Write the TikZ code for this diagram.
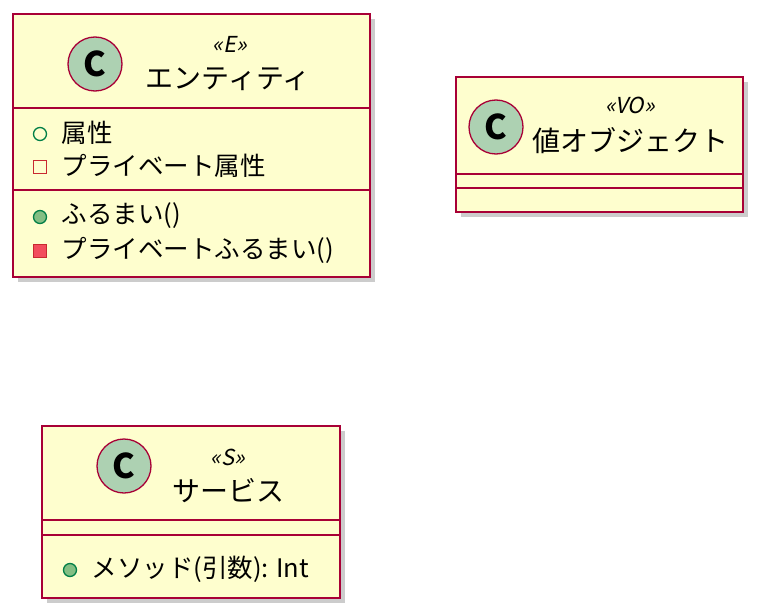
\documentclass[tikz,border=0pt]{standalone}
\usepackage{fontspec}
\setmainfont{Noto Sans CJK JP}
\usetikzlibrary{shadows}
\definecolor{bd}{HTML}{A80036}
\definecolor{bg}{HTML}{FEFECE}
\definecolor{ci}{HTML}{ADD1B2}
\definecolor{pub}{HTML}{84BE84}
\definecolor{pubb}{HTML}{038048}
\definecolor{pri}{HTML}{F24D5C}
\definecolor{prib}{HTML}{C82930}
\begin{document}
\begin{tikzpicture}[x=1pt,y=-1pt,
  box/.style={draw=bd,fill=bg,line width=2.2pt,drop shadow={shadow xshift=5pt,shadow yshift=-5pt,opacity=0.4}},
  sep/.style={draw=bd,line width=2.2pt},
  cc/.style={circle,draw=bd,fill=ci,line width=1.3pt,minimum size=54pt,inner sep=0pt,font=\fontsize{34}{34}\selectfont\bfseries},
  st/.style={font=\fontsize{22}{22}\selectfont\addfontfeature{FakeSlant=0.2}},
  nm/.style={font=\fontsize{28}{28}\selectfont},
  mb/.style={anchor=west,font=\fontsize{25.5}{25.5}\selectfont},
  pubo/.style={circle,draw=pubb,line width=1.3pt,minimum size=13pt,inner sep=0pt},
  pubf/.style={circle,draw=pubb,fill=pub,line width=1.3pt,minimum size=13pt,inner sep=0pt},
  prio/.style={rectangle,draw=prib,line width=1.3pt,minimum size=13pt,inner sep=0pt},
  prif/.style={rectangle,draw=prib,fill=pri,line width=1.3pt,minimum size=13pt,inner sep=0pt}]
\useasboundingbox (0,0) rectangle (759,615);
% Entity
\path[box] (13,14) rectangle (370,277);
\draw[sep] (13,108) -- (370,108);
\draw[sep] (13,190) -- (370,190);
\node[cc] (ec) at (95,64) {C};
\node[st] (es) at (230,44) {«E»};
\node[nm] (en) at (228,79) {エンティティ};
\node[pubo] (a1i) at (40,134) {};
\node[mb] (a1) at (58,133) {属性};
\node[prio] (a2i) at (40,167) {};
\node[mb] (a2) at (58,166) {プライベート属性};
\node[pubf] (m1i) at (40,217) {};
\node[mb] (m1) at (58,216) {ふるまい()};
\node[prif] (m2i) at (40,251) {};
\node[mb] (m2) at (58,250) {プライベートふるまい()};
% VO
\path[box] (456,77) rectangle (743,212);
\draw[sep] (456,174) -- (743,174);
\draw[sep] (456,188) -- (743,188);
\node[cc] (vc) at (496,127) {C};
\node[st] (vs) at (630,105) {«VO»};
\node[nm] (vn) at (630,141) {値オブジェクト};
% Service
\path[box] (42,426) rectangle (340,598);
\draw[sep] (42,520) -- (340,520);
\draw[sep] (42,535) -- (340,535);
\node[cc] (sc) at (124,466) {C};
\node[st] (ss) at (228,457) {«S»};
\node[nm] (sn) at (228,491) {サービス};
\node[pubf] (s1i) at (70,570) {};
\node[mb] (s1) at (88,569) {メソッド(引数): Int};
\end{tikzpicture}
\end{document}
